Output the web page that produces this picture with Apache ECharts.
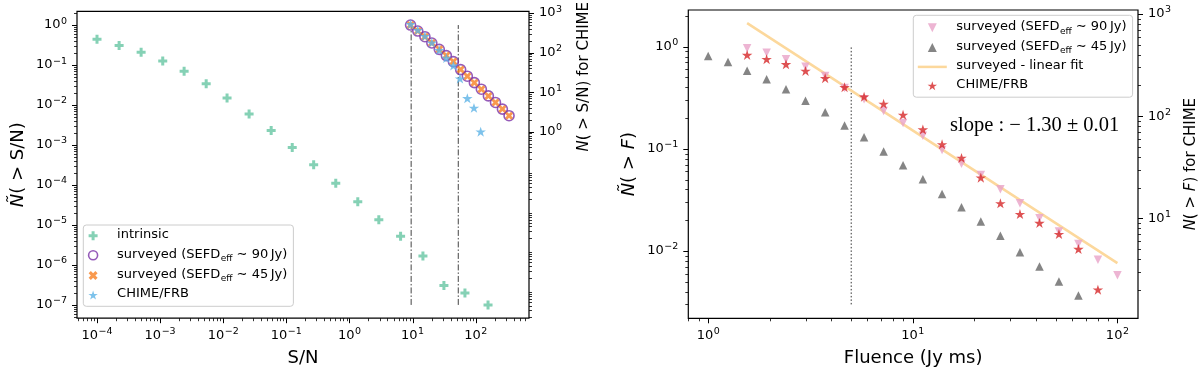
<!DOCTYPE html>
<html><head><meta charset="utf-8">
<script src="https://cdn.jsdelivr.net/npm/echarts@6/dist/echarts.min.js"></script>
<style>html,body{margin:0;padding:0;background:#fff}#c{width:1200px;height:374px}</style>
</head><body><div id="c"></div>
<script>
// ---------------- data ----------------
// Left panel: cumulative distribution vs S/N
const intrinsicSN = [1.0e-4, 2.24e-4, 5.0e-4, 1.10e-3, 2.40e-3, 5.37e-3, 1.15e-2, 2.57e-2, 5.75e-2, 0.124, 0.271, 0.607, 1.355, 2.92, 6.46, 14.6, 31.4, 67.6, 157];
const intrinsicN  = [0.44, 0.31, 0.21, 0.126, 0.070, 0.034, 0.0149, 0.0060, 0.0023, 8.7e-4, 3.2e-4, 1.1e-4, 3.8e-5, 1.35e-5, 5.2e-6, 1.67e-6, 3.05e-7, 2.0e-7, 1.0e-7];
const surveyedSN  = [9.3, 12.1, 15.7, 20.2, 26.5, 34.3, 44.3, 57.8, 73.8, 95.3, 123, 159, 206, 265, 338];
const surveyed90N = [1.0, 0.708, 0.512, 0.356, 0.247, 0.172, 0.122, 0.0769, 0.0525, 0.0363, 0.0249, 0.0169, 0.0116, 0.0079, 0.0054];
const surveyed45N = [1.0, 0.708, 0.512, 0.356, 0.247, 0.172, 0.122, 0.0769, 0.0525, 0.0363, 0.0249, 0.0169, 0.0116, 0.0079, 0.0054];
const chimeSN     = [9.3, 12.1, 15.7, 20.2, 26.5, 34.3, 44.3, 56.4, 73.8, 94.0, 120];
const chimeCountSN = [527, 372, 262, 178, 116, 73, 47, 22, 7, 4, 1];
const thresholdsSN = [9.5, 53];
const thresholdSNRange = [1e-7, 1];

// Right panel: cumulative distribution vs fluence
const fluence = [1.0, 1.25, 1.55, 1.93, 2.40, 2.99, 3.73, 4.64, 5.78, 7.20, 8.96, 11.2, 13.9, 17.3, 21.5, 26.8, 33.4, 41.6, 51.8, 64.5, 80.3, 100];
const surveyed90F = [0.964, 0.873, 0.753, 0.637, 0.517, 0.394, 0.306, 0.235, 0.179, 0.134, 0.0976, 0.0716, 0.0555, 0.0402, 0.0294, 0.0209, 0.0155, 0.0117, 0.0082, 0.0058];
const surveyed45F = [0.811, 0.708, 0.582, 0.480, 0.383, 0.296, 0.228, 0.169, 0.130, 0.0939, 0.0691, 0.0504, 0.0362, 0.0268, 0.0194, 0.0141, 0.00973, 0.00703, 0.00502, 0.00366];
const chimeCountF = [397, 361, 322, 277, 235, 192, 155, 132, 103, 74, 53, 39, 25, 14, 11, 9, 7, 5, 2];
const fitF = [1.55, 100];
const fitN = [1.70, 0.0076];
const thresholdF = 5;
const thresholdFRange = [0.003, 1];
const slopeText = 'slope : \u2212 1.30 \u00b1 0.01';

// ---------------- helpers ----------------
const FONT = '"DejaVu Sans", sans-serif';
const zip = (a, b) => a.map((v, i) => [v, b[i]]);
const f90 = fluence.slice(2, 22);
const f45 = fluence.slice(0, 20);
const fChime = fluence.slice(2, 21);

const STAR = 'path://M0,-100L22.45,-30.9L95.11,-30.9L36.33,11.8L58.78,80.9L0,38.2L-58.78,80.9L-36.33,11.8L-95.11,-30.9L-22.45,-30.9Z';
const PLUS = 'path://M-1,-3L1,-3L1,-1L3,-1L3,1L1,1L1,3L-1,3L-1,1L-3,1L-3,-1L-1,-1Z';
const XFIL = 'path://M-1,-2L0,-1L1,-2L2,-1L1,0L2,1L1,2L0,1L-1,2L-2,1L-1,0L-2,-1Z';
const TUP = 'path://M0,-1L1,1L-1,1Z';
const TDN = 'path://M0,1L-1,-1L1,-1Z';
const LINEICON = 'path://M0,0L29,0L29,2.5L0,2.5Z';

const GREEN = '#66c5a3', PURPLE = '#7b32a8', ORANGE = '#f77f22', SKY = '#5cb3e6';
const PINK = '#e8a2c8', GRAY = '#666666', RED = '#d62728', FITC = '#fcd89c';

const labelRich = {
  b: {fontFamily: FONT, fontSize: 13, lineHeight: 14, padding: [2, 0, 2, 0], color: '#000'},
  s: {fontFamily: FONT, fontSize: 9.5, lineHeight: 10, padding: [0, 0, 8, 0.5], color: '#000'}
};
function makeFmt(minExp) {
  return function (v) {
    const e = Math.log10(v), r = Math.round(e);
    if (Math.abs(e - r) > 1e-6 || r < minExp) return '';
    return '{b|10}{s|' + String(r).replace('-', '\u2212') + '}';
  };
}
const nameRich = (size) => ({i: {fontFamily: FONT, fontSize: size, fontStyle: 'italic', color: '#000'}});

function logAxis(o, minExp) {
  return Object.assign({
    type: 'log', logBase: 10,
    axisLine: {show: false}, axisTick: {show: false},
    splitLine: {show: false}, minorTick: {show: false}, minorSplitLine: {show: false},
    axisLabel: {formatter: makeFmt(minExp === undefined ? -99 : minExp), rich: labelRich, margin: 10, color: '#000'},
    nameLocation: 'middle'
  }, o);
}

function majors(lo, hi) {
  const out = [];
  for (let e = Math.floor(Math.log10(lo)); e <= Math.ceil(Math.log10(hi)); e++) {
    const v = Math.pow(10, e); if (v >= lo && v <= hi) out.push(v);
  }
  return out;
}
function minors(lo, hi) {
  const out = [];
  for (let e = Math.floor(Math.log10(lo)) - 1; e <= Math.ceil(Math.log10(hi)); e++)
    for (let m = 2; m <= 9; m++) { const v = m * Math.pow(10, e); if (v > lo && v < hi) out.push(v); }
  return out;
}
function tickSeries(xi, yi, dim, side, vals, len, w) {
  return {
    type: 'custom', xAxisIndex: xi, yAxisIndex: yi, silent: true, clip: false, z: 6,
    encode: {x: 0, y: 1},
    data: vals.map(v => dim === 'x' ? [v, 1] : [1, v]),
    renderItem: function (params, api) {
      const cs = params.coordSys;
      const p = api.coord([api.value(0), api.value(1)]);
      let shape;
      if (dim === 'x') {
        const x = Math.round(p[0]) + 0.5, y0 = cs.y + cs.height;
        shape = {x1: x, y1: y0, x2: x, y2: y0 + len};
      } else if (side === 'left') {
        const y = Math.round(p[1]) + 0.5;
        shape = {x1: cs.x - len, y1: y, x2: cs.x, y2: y};
      } else {
        const y = Math.round(p[1]) + 0.5, x0 = cs.x + cs.width;
        shape = {x1: x0, y1: y, x2: x0 + len, y2: y};
      }
      return {type: 'line', shape: shape, style: {stroke: '#000', lineWidth: w}};
    }
  };
}

// axis ranges
const L_X = [Math.pow(10, -4.317), Math.pow(10, 2.845)];
const L_Y = [Math.pow(10, -7.332), Math.pow(10, 0.342)];
const L_Y2 = [Math.pow(10, -4.718), Math.pow(10, 3.043)];
const R_X = [Math.pow(10, -0.0972), Math.pow(10, 2.1006)];
const R_Y = [Math.pow(10, -2.659), Math.pow(10, 0.359)];
const R_Y2 = [Math.pow(10, 0.021), Math.pow(10, 3.039)];

const legendText = {
  intr: '{t|intrinsic}',
  s90L: '{t|surveyed (SEFD}{u|eff}{t| \u223c 90\u2009Jy)}',
  s45L: '{t|surveyed (SEFD}{u|eff}{t| \u223c 45\u2009Jy)}',
  chimeL: '{t|CHIME/FRB}',
  s90R: '{t|surveyed (SEFD}{u|eff}{t| \u223c 90\u2009Jy)}',
  s45R: '{t|surveyed (SEFD}{u|eff}{t| \u223c 45\u2009Jy)}',
  fitR: '{t|surveyed - linear fit}',
  chimeR: '{t|CHIME/FRB}'
};
const legendRich = {
  t: {fontFamily: FONT, fontSize: 13, lineHeight: 15, padding: [0, 0, 2, 0], color: '#000'},
  u: {fontFamily: FONT, fontSize: 9, lineHeight: 10, padding: [7, 0, 0, 0.5], color: '#000'}
};
const legendBase = {
  orient: 'vertical', itemWidth: 29, itemHeight: 9, selectedMode: false,
  backgroundColor: 'rgba(255,255,255,0.8)', borderColor: '#cccccc', borderWidth: 1, borderRadius: 3,
  formatter: n => legendText[n],
  textStyle: {fontFamily: FONT, fontSize: 13, color: '#000', padding: [0, 0, 0, 4.5], rich: legendRich}
};

const chart = echarts.init(document.getElementById('c'), null, {renderer: 'canvas'});
chart.setOption({
  animation: false,
  backgroundColor: '#fff',
  textStyle: {fontFamily: FONT},
  title: {
    text: slopeText, left: 950, top: 113, padding: 0, textAlign: 'left', textVerticalAlign: 'top',
    textStyle: {fontFamily: '"Liberation Serif", serif', fontSize: 20.5, fontWeight: 'normal', color: '#000', lineHeight: 26}
  },
  grid: [
    {left: 77, top: 10.2, width: 452, height: 308, show: true, borderColor: '#000', borderWidth: 1.2, backgroundColor: 'transparent'},
    {left: 688.3, top: 10, width: 452.4, height: 308.3, show: true, borderColor: '#000', borderWidth: 1.2, backgroundColor: 'transparent'}
  ],
  xAxis: [
    logAxis({gridIndex: 0, min: L_X[0], max: L_X[1], name: 'S/N', nameGap: 31,
      nameTextStyle: {fontFamily: FONT, fontSize: 18, color: '#000'}}),
    logAxis({gridIndex: 1, min: R_X[0], max: R_X[1], name: 'Fluence (Jy ms)', nameGap: 31,
      nameTextStyle: {fontFamily: FONT, fontSize: 18, color: '#000'}})
  ],
  yAxis: [
    logAxis({gridIndex: 0, position: 'left', min: L_Y[0], max: L_Y[1], name: '{i|\u00d1}( > S/N)', nameGap: 50,
      nameTextStyle: {fontFamily: FONT, fontSize: 18, color: '#000', rich: nameRich(18)}}),
    logAxis({gridIndex: 0, position: 'right', min: L_Y2[0], max: L_Y2[1], name: '{i|N}( > S/N) for CHIME', nameGap: 48,
      nameTextStyle: {fontFamily: FONT, fontSize: 15, color: '#000', padding: [0, 0, 0, 176], rich: nameRich(15)}}, 0),
    logAxis({gridIndex: 1, position: 'left', min: R_Y[0], max: R_Y[1], name: '{i|\u00d1}( > {i|F})', nameGap: 50,
      nameTextStyle: {fontFamily: FONT, fontSize: 18, color: '#000', rich: nameRich(18)}}),
    logAxis({gridIndex: 1, position: 'right', min: R_Y2[0], max: R_Y2[1], name: '{i|N}( > {i|F}) for CHIME', nameGap: 46,
      nameTextStyle: {fontFamily: FONT, fontSize: 15, color: '#000', rich: nameRich(15)}})
  ],
  legend: [
    Object.assign({}, legendBase, {
      left: 83.3, top: 225, itemGap: 4.1, padding: [3.2, 6, 3.8, 4.5],
      data: ['intr', {name: 's90L', itemStyle: {color: 'rgba(0,0,0,0)', borderColor: PURPLE, borderWidth: 1.6}}, 's45L', 'chimeL']
    }),
    Object.assign({}, legendBase, {
      left: 913.3, top: 15.3, itemGap: 3.8, padding: [4.5, 6, 4, 4.5],
      data: ['s90R', 's45R', {name: 'fitR', icon: LINEICON, itemStyle: {color: FITC}}, 'chimeR']
    })
  ],
  series: [
    // threshold lines (left)
    {type: 'line', xAxisIndex: 0, yAxisIndex: 0, silent: true, symbol: 'none', z: 1,
      data: [[thresholdsSN[0], thresholdSNRange[0]], [thresholdsSN[0], thresholdSNRange[1]]],
      lineStyle: {color: '#444', width: 1, type: [6, 2, 1.5, 2]}},
    {type: 'line', xAxisIndex: 0, yAxisIndex: 0, silent: true, symbol: 'none', z: 1,
      data: [[thresholdsSN[1], thresholdSNRange[0]], [thresholdsSN[1], thresholdSNRange[1]]],
      lineStyle: {color: '#444', width: 1, type: [6, 2, 1.5, 2]}},
    // left panel scatter
    {type: 'scatter', name: 'intr', xAxisIndex: 0, yAxisIndex: 0, silent: true, z: 3,
      data: zip(intrinsicSN, intrinsicN), symbol: PLUS, symbolSize: 9, symbolKeepAspect: true,
      itemStyle: {color: GREEN}},
    {type: 'scatter', name: 's90L', xAxisIndex: 0, yAxisIndex: 0, silent: true, z: 3,
      data: zip(surveyedSN, surveyed90N), symbol: 'circle', symbolSize: 10,
      itemStyle: {color: 'rgba(0,0,0,0)', borderColor: PURPLE, borderWidth: 1.6}},
    {type: 'scatter', name: 's45L', xAxisIndex: 0, yAxisIndex: 0, silent: true, z: 3,
      data: zip(surveyedSN, surveyed45N), symbol: XFIL, symbolSize: 8, symbolKeepAspect: true,
      itemStyle: {color: ORANGE}},
    {type: 'scatter', name: 'chimeL', xAxisIndex: 0, yAxisIndex: 1, silent: true, z: 4,
      data: zip(chimeSN, chimeCountSN), symbol: STAR, symbolSize: 10.5, symbolKeepAspect: true,
      itemStyle: {color: SKY}},
    // threshold line (right)
    {type: 'line', xAxisIndex: 1, yAxisIndex: 2, silent: true, symbol: 'none', z: 1,
      data: [[thresholdF, thresholdFRange[0]], [thresholdF, thresholdFRange[1]]],
      lineStyle: {color: '#333', width: 1, type: [1.5, 2]}},
    // right panel
    {type: 'scatter', name: 's90R', xAxisIndex: 1, yAxisIndex: 2, silent: true, z: 3,
      data: zip(f90, surveyed90F), symbol: TDN, symbolSize: 8.5, symbolKeepAspect: true,
      itemStyle: {color: PINK}},
    {type: 'scatter', name: 's45R', xAxisIndex: 1, yAxisIndex: 2, silent: true, z: 3,
      data: zip(f45, surveyed45F), symbol: TUP, symbolSize: 8.5, symbolKeepAspect: true,
      itemStyle: {color: GRAY}},
    {type: 'line', name: 'fitR', xAxisIndex: 1, yAxisIndex: 2, silent: true, z: 3,
      data: zip(fitF, fitN), symbol: 'none', showSymbol: false,
      lineStyle: {color: FITC, width: 2.5}, itemStyle: {color: FITC}},
    {type: 'scatter', name: 'chimeR', xAxisIndex: 1, yAxisIndex: 3, silent: true, z: 4,
      data: zip(fChime, chimeCountF), symbol: STAR, symbolSize: 10.5, symbolKeepAspect: true,
      itemStyle: {color: RED}},
    // ticks
    tickSeries(0, 0, 'x', 'bottom', majors(L_X[0], L_X[1]), 5, 1),
    tickSeries(0, 0, 'x', 'bottom', minors(L_X[0], L_X[1]), 3, 0.8),
    tickSeries(0, 0, 'y', 'left', majors(L_Y[0], L_Y[1]), 5, 1),
    tickSeries(0, 0, 'y', 'left', minors(L_Y[0], L_Y[1]), 3, 0.8),
    tickSeries(0, 1, 'y', 'right', majors(1, L_Y2[1]), 5, 1),
    tickSeries(0, 1, 'y', 'right', minors(L_Y2[0], L_Y2[1]), 3, 0.8),
    tickSeries(1, 2, 'x', 'bottom', majors(R_X[0], R_X[1]), 5, 1),
    tickSeries(1, 2, 'x', 'bottom', minors(R_X[0], R_X[1]), 3, 0.8),
    tickSeries(1, 2, 'y', 'left', majors(R_Y[0], R_Y[1]), 5, 1),
    tickSeries(1, 2, 'y', 'left', minors(R_Y[0], R_Y[1]), 3, 0.8),
    tickSeries(1, 3, 'y', 'right', majors(R_Y2[0], R_Y2[1]), 5, 1),
    tickSeries(1, 3, 'y', 'right', minors(R_Y2[0], R_Y2[1]), 3, 0.8)
  ]
});
</script></body></html>
